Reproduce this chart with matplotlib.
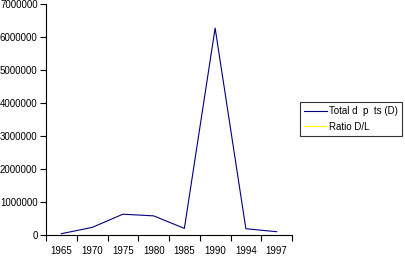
import numpy as np
import matplotlib
matplotlib.use("Agg")
import matplotlib.pyplot as plt

plt.rcParams['font.family'] = ['Liberation Sans', 'DejaVu Sans']

years = ['1965', '1970', '1975', '1980', '1985', '1990', '1994', '1997']
total_deposits = [40000, 230000, 630000, 580000, 200000, 6270000, 190000, 100000]
ratio_dl = [0.3, 0.35, 0.4, 0.45, 0.5, 0.6, 0.55, 0.5]

fig = plt.figure(figsize=(4.05, 2.58), dpi=100)
ax = fig.add_axes([46 / 405, 1 - 235 / 258, (292 - 46) / 405, 231 / 258])

x = np.arange(len(years))
ax.plot(x, total_deposits, color='#000080', lw=0.8, label='Total d  p  ts (D)')
ax.plot(x, ratio_dl, color='#ffff00', lw=0.8, label='Ratio D/L')

ax.set_xlim(-0.5, len(years) - 0.5)
ax.set_ylim(0, 7000000)
ax.set_yticks(np.arange(0, 7000001, 1000000))
ax.set_yticklabels([str(v) for v in range(0, 7000001, 1000000)])

# ticks at category boundaries, labels at centres
ax.set_xticks(np.arange(-0.5, len(years), 1))
ax.set_xticklabels([])
ax.set_xticks(x, minor=True)
ax.set_xticklabels(years, minor=True)
ax.tick_params(axis='x', which='major', length=4, width=0.8, direction='out')
ax.tick_params(axis='x', which='minor', length=0, pad=8)
ax.tick_params(axis='y', length=4, width=0.8, direction='out', pad=2)
ax.tick_params(which='both', labelsize=7)

for s in ['top', 'right']:
    ax.spines[s].set_visible(False)
for s in ['left', 'bottom']:
    ax.spines[s].set_linewidth(0.8)

leg = fig.legend(loc='center left', bbox_to_anchor=(300 / 405, 1 - 119 / 258),
                 fontsize=7, frameon=True, fancybox=False, handlelength=2.3,
                 borderpad=0.45, labelspacing=0.55, handletextpad=0.25,
                 borderaxespad=0)
leg.get_frame().set_edgecolor('black')
leg.get_frame().set_linewidth(0.8)

fig.savefig('out.png', dpi=100)
